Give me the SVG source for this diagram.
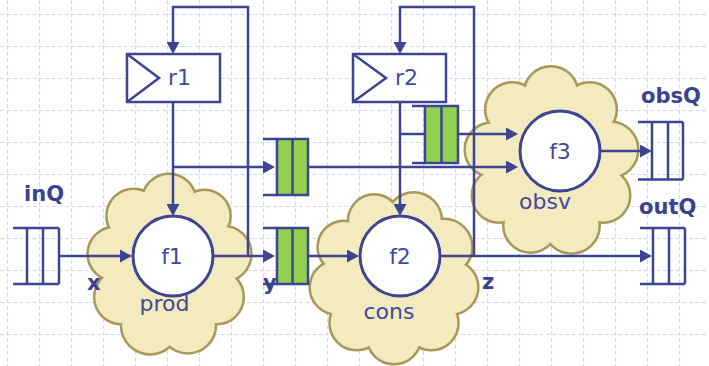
<svg xmlns="http://www.w3.org/2000/svg" xmlns:xlink="http://www.w3.org/1999/xlink" width="709" height="366" viewBox="0 0 709 366">
<style>
.grid{stroke:#cdd9f7;stroke-width:1.2;stroke-dasharray:4 2.5;fill:none}
.ln{stroke:#3d4491;stroke-width:2.5;fill:none}
.arr{marker-end:url(#ah)}
.box{fill:#ffffff;stroke:#3d4491;stroke-width:2.5}
.q{fill:none;stroke:#3d4491;stroke-width:2.5}
.qg{fill:#92d050;stroke:#3d4491;stroke-width:2.5}
.fn{fill:#ffffff;stroke:#3d4491;stroke-width:3}
.cloudOut{fill:#f4eabf;stroke:#a8985a;stroke-width:5}
.cloudIn{fill:#f4eabf;stroke:none}
.t{font-family:"DejaVu Sans","Liberation Sans",sans-serif;font-size:22px;fill:#404a9a}
.b{font-family:"DejaVu Sans","Liberation Sans",sans-serif;font-size:21px;font-weight:bold;fill:#3a4290}
</style>
<defs>
<marker id="ah" markerWidth="12" markerHeight="13" refX="9" refY="6.5" orient="auto" markerUnits="userSpaceOnUse">
<path d="M0,0 L12,6.5 L0,13 z" fill="#3d4491"/>
</marker>
<g id="prodShape">
<ellipse cx="169" cy="265" rx="55" ry="64"/>
<circle cx="169" cy="201" r="26"/>
<circle cx="204.4" cy="216" r="25"/>
<circle cx="223.2" cy="253.9" r="27"/>
<circle cx="216.6" cy="297" r="26"/>
<circle cx="187.8" cy="325.2" r="27"/>
<circle cx="150.2" cy="325.2" r="28"/>
<circle cx="121.4" cy="297" r="26"/>
<circle cx="114.8" cy="253.9" r="26"/>
<circle cx="133.6" cy="216" r="26"/>
</g>
<g id="consShape">
<ellipse cx="394" cy="277" rx="58" ry="60"/>
<circle cx="413.8" cy="220.6" r="27"/>
<circle cx="444.2" cy="247" r="27"/>
<circle cx="451.1" cy="287.4" r="26"/>
<circle cx="431.3" cy="323" r="26"/>
<circle cx="394" cy="337" r="26"/>
<circle cx="356.7" cy="323" r="26"/>
<circle cx="336.9" cy="287.4" r="26"/>
<circle cx="343.8" cy="247" r="25"/>
<circle cx="374.2" cy="220.6" r="25"/>
</g>
<g id="obsvShape">
<ellipse cx="551" cy="161.5" rx="60" ry="68"/>
<circle cx="551" cy="93.5" r="26"/>
<circle cx="589.6" cy="109.4" r="26"/>
<circle cx="610.1" cy="149.7" r="27"/>
<circle cx="603" cy="195.5" r="26"/>
<circle cx="571.5" cy="225.4" r="27"/>
<circle cx="530.5" cy="225.4" r="26"/>
<circle cx="499" cy="195.5" r="26"/>
<circle cx="491.9" cy="149.7" r="26"/>
<circle cx="512.4" cy="109.4" r="26"/>
</g>
</defs>
<rect x="0" y="0" width="709" height="366" fill="#ffffff"/>
<path class="grid" d="M7.5,0V366M39.5,0V366M71.5,0V366M103.5,0V366M135.5,0V366M167.5,0V366M199.5,0V366M231.5,0V366M263.5,0V366M295.5,0V366M327.5,0V366M359.5,0V366M391.5,0V366M423.5,0V366M455.5,0V366M487.5,0V366M519.5,0V366M551.5,0V366M583.5,0V366M615.5,0V366M647.5,0V366M679.5,0V366M0,14.5H709M0,46.5H709M0,78.5H709M0,110.5H709M0,142.5H709M0,174.5H709M0,206.5H709M0,238.5H709M0,270.5H709M0,302.5H709M0,334.5H709"/>
<g id="cloud-prod"><use xlink:href="#prodShape" class="cloudOut"/><use xlink:href="#prodShape" class="cloudIn"/></g>
<g id="cloud-cons"><use xlink:href="#consShape" class="cloudOut"/><use xlink:href="#consShape" class="cloudIn"/></g>
<g id="cloud-obsv"><use xlink:href="#obsvShape" class="cloudOut"/><use xlink:href="#obsvShape" class="cloudIn"/></g>
<g id="connectors">
<path class="ln arr" d="M59,256H129"/>
<path class="ln arr" d="M213,256H272"/>
<path class="ln arr" d="M248,256V7H173V51"/>
<path class="ln arr" d="M173,102V213"/>
<path class="ln arr" d="M173,167H272"/>
<path class="ln arr" d="M308,167H515"/>
<path class="ln arr" d="M308,256H356"/>
<path class="ln arr" d="M474,256V7H400V51"/>
<path class="ln arr" d="M400,102V213"/>
<path class="ln" d="M400,134H425"/>
<path class="ln arr" d="M458,134H515"/>
<path class="ln arr" d="M440,256H649"/>
<path class="ln arr" d="M600,151H649"/>
</g>
<g id="r1">
<rect class="box" x="127" y="54" width="93" height="48"/>
<polyline class="q" points="127,54 159,78 127,102"/>
<text class="t" x="168" y="85">r1</text>
</g>
<g id="r2">
<rect class="box" x="353" y="54" width="93" height="48"/>
<polyline class="q" points="353,54 386,78 353,102"/>
<text class="t" x="395" y="85">r2</text>
</g>
<g id="f1">
<circle class="fn" cx="173" cy="256" r="40"/>
<text class="t" x="172" y="264" text-anchor="middle">f1</text>
</g>
<g id="f2">
<circle class="fn" cx="400" cy="256" r="40"/>
<text class="t" x="400" y="264" text-anchor="middle">f2</text>
</g>
<g id="f3">
<circle class="fn" cx="560" cy="151" r="40"/>
<text class="t" x="560" y="159" text-anchor="middle">f3</text>
</g>
<g id="inQ">
<path class="q" d="M13,228H59M13,284H59M27,228V284M43,228V284M59,228V284"/>
<text class="b" x="24" y="201">inQ</text>
</g>
<g id="qA">
<path class="q" d="M263,139H277M263,195H277"/>
<rect class="qg" x="277" y="139" width="31" height="56"/>
<path class="q" d="M292.5,139V195"/>
</g>
<g id="qY">
<path class="q" d="M263,228H277M263,284H277"/>
<rect class="qg" x="277" y="228" width="31" height="56"/>
<path class="q" d="M292.5,228V284"/>
</g>
<g id="qB">
<path class="q" d="M412,106H425M412,163H425"/>
<rect class="qg" x="425" y="106" width="33" height="57"/>
<path class="q" d="M441.5,106V163"/>
</g>
<g id="obsQ">
<path class="q" d="M638,122H683M638,179.5H683M652,122V179.5M668,122V179.5M683,122V179.5"/>
<text class="b" x="641" y="103">obsQ</text>
</g>
<g id="outQ">
<path class="q" d="M640,228H685M640,284H685M653,228V284M669,228V284M685,228V284"/>
<text class="b" x="639" y="214">outQ</text>
</g>
<g id="labels">
<text class="t" x="164.5" y="311" text-anchor="middle">prod</text>
<text class="t" x="389" y="319" text-anchor="middle">cons</text>
<text class="t" x="545" y="209" text-anchor="middle">obsv</text>
<text class="b" x="87" y="290">x</text>
<text class="b" x="263" y="290">y</text>
<text class="b" x="482" y="289">z</text>
<text class="b" x="243" y="287" style="fill:#ffffff">(</text>
</g>
</svg>
